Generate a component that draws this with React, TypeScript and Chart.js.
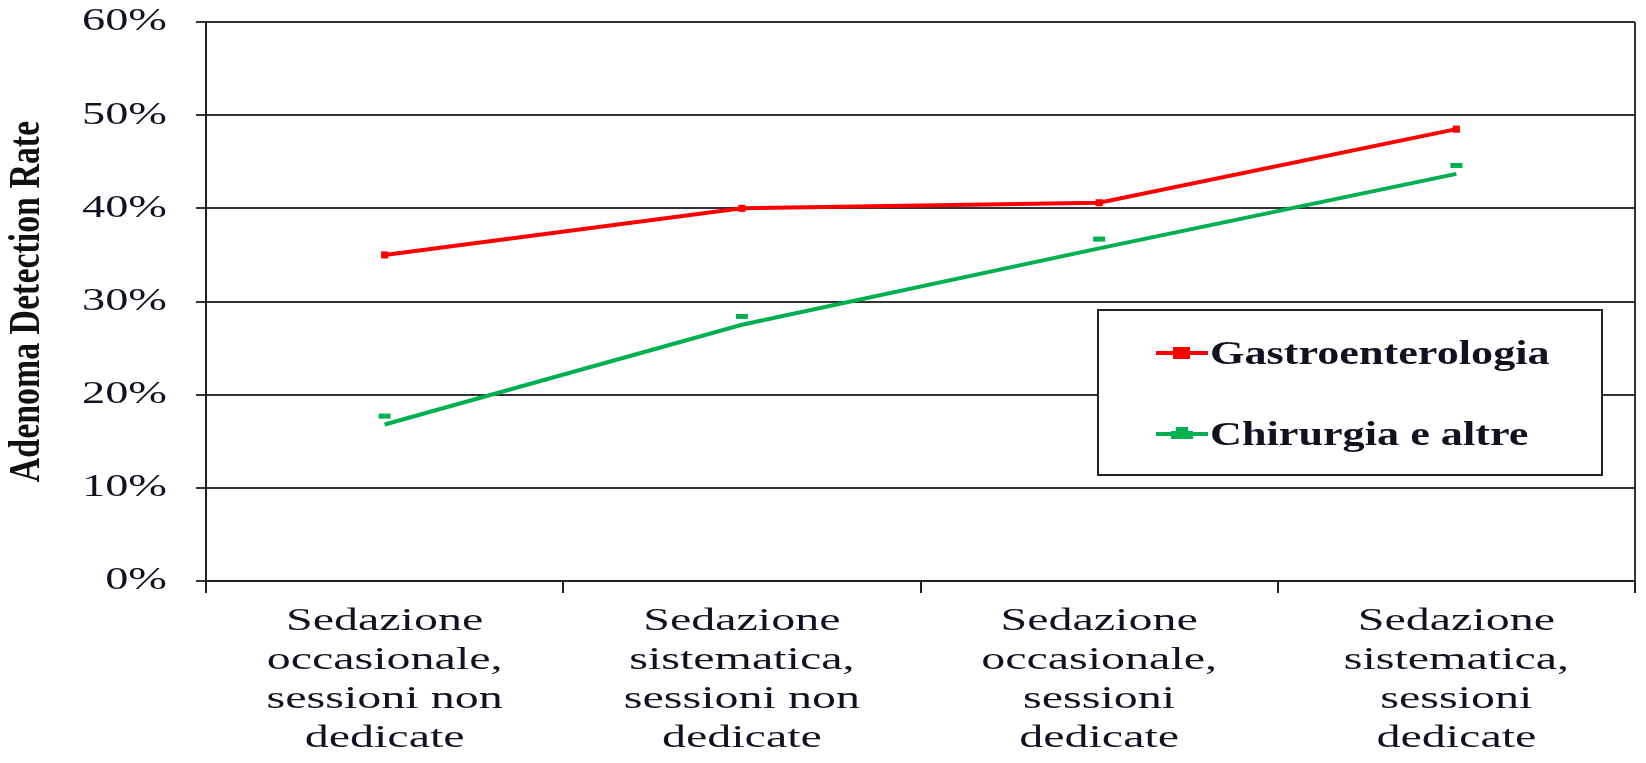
import React, { useEffect, useRef } from "react";
import { Chart, registerables } from "chart.js";

Chart.register(...registerables);

const categories: string[][] = [
  ["Sedazione", "occasionale,", "sessioni non", "dedicate"],
  ["Sedazione", "sistematica,", "sessioni non", "dedicate"],
  ["Sedazione", "occasionale,", "sessioni", "dedicate"],
  ["Sedazione", "sistematica,", "sessioni", "dedicate"],
];
const seriesNames = ["Gastroenterologia", "Chirurgia e altre"];
const gastroValues = [35.0, 40.0, 40.6, 48.5];
const chirurgiaValues = [16.8, 27.5, 35.7, 43.7];
const chirurgiaMarkers = [17.7, 28.4, 36.7, 44.6];
const yMin = 0;
const yMax = 60;
const yStep = 10;
const yTitle = "Adenoma Detection Rate";

const RED = "#FF0000";
const GREEN = "#00B050";
const TEXT = "#111122";
const X_STRETCH = 1.5;
const Y_STRETCH = 1.45;
const TITLE_STRETCH = 0.77;
const LEGEND_STRETCH = 1.3;

// Stretch text horizontally around its own anchor: Chart.js translates to the
// label anchor and then rotates, so a scale applied right after the rotation
// widens (or narrows) the glyphs along the text direction only.
function wrapStretch(scale: any, method: string, sx: number) {
  const orig = scale[method].bind(scale);
  scale[method] = (...args: any[]) => {
    const c = scale.ctx;
    const protoRotate = CanvasRenderingContext2D.prototype.rotate;
    (c as any).rotate = function (a: number) {
      protoRotate.call(c, a);
      c.scale(sx, 1);
    };
    try {
      orig(...args);
    } finally {
      delete (c as any).rotate;
    }
  };
}

const stretchPlugin = {
  id: "stretchText",
  beforeDraw(chart: any) {
    const x = chart.scales.x;
    const y = chart.scales.y;
    if (x && !x.__stretched) {
      wrapStretch(x, "drawLabels", X_STRETCH);
      x.__stretched = true;
    }
    if (y && !y.__stretched) {
      wrapStretch(y, "drawLabels", Y_STRETCH);
      wrapStretch(y, "drawTitle", TITLE_STRETCH);
      y.__stretched = true;
    }
  },
};

const framePlugin = {
  id: "frame",
  afterDraw(chart: any) {
    const { ctx, chartArea } = chart;
    ctx.save();
    ctx.strokeStyle = "#333";
    ctx.lineWidth = 2;
    ctx.beginPath();
    ctx.moveTo(chartArea.right, chartArea.top);
    ctx.lineTo(chartArea.right, chartArea.bottom);
    ctx.stroke();
    ctx.restore();
  },
};

const legendPlugin = {
  id: "boxLegend",
  afterDatasetsDraw(chart: any) {
    const { ctx, chartArea } = chart;
    const left = chartArea.left + 892;
    const top = chartArea.top + 288;
    const w = 504;
    const h = 165;
    ctx.save();
    ctx.fillStyle = "#ffffff";
    ctx.fillRect(left, top, w, h);
    ctx.strokeStyle = "#222";
    ctx.lineWidth = 2;
    ctx.strokeRect(left, top, w, h);
    const items = chart.data.datasets.filter((d: any) => !d.hideInLegend);
    items.forEach((d: any, i: number) => {
      const y = top + 43 + i * 81;
      ctx.strokeStyle = d.borderColor;
      ctx.lineWidth = 4;
      ctx.beginPath();
      ctx.moveTo(left + 58, y);
      ctx.lineTo(left + 110, y);
      ctx.stroke();
      ctx.fillStyle = d.borderColor;
      if (i === 0) {
        ctx.fillRect(left + 75, y - 6, 17, 12);
      } else {
        ctx.fillRect(left + 73, y - 3, 22, 8);
        ctx.fillRect(left + 78, y - 7, 12, 6);
      }
      ctx.save();
      ctx.translate(left + 112, y + 11);
      ctx.scale(LEGEND_STRETCH, 1);
      ctx.fillStyle = TEXT;
      ctx.font = "bold 34px 'Liberation Serif'";
      ctx.textBaseline = "alphabetic";
      ctx.textAlign = "left";
      ctx.fillText(d.label, 0, 0);
      ctx.restore();
    });
    ctx.restore();
  },
};

export default function App() {
  const ref = useRef<HTMLCanvasElement | null>(null);

  useEffect(() => {
    if (!ref.current) return;
    const chart = new Chart(ref.current, {
      type: "line",
      data: {
        labels: categories,
        datasets: [
          {
            label: seriesNames[0],
            data: gastroValues,
            borderColor: RED,
            backgroundColor: RED,
            borderWidth: 4,
            pointStyle: "rect",
            pointRadius: 5,
            pointBorderWidth: 0,
            tension: 0,
          } as any,
          {
            label: seriesNames[1],
            data: chirurgiaValues,
            borderColor: GREEN,
            backgroundColor: GREEN,
            borderWidth: 4,
            pointRadius: 0,
            tension: 0,
          } as any,
          {
            label: seriesNames[1] + " markers",
            data: chirurgiaMarkers,
            hideInLegend: true,
            showLine: false,
            borderColor: GREEN,
            backgroundColor: GREEN,
            pointStyle: "line",
            pointRadius: 6,
            pointBorderWidth: 5,
            pointBorderColor: GREEN,
          } as any,
        ],
      },
      options: {
        responsive: false,
        animation: false,
        layout: { padding: { left: 0, top: 22, right: 4, bottom: 0 } },
        plugins: {
          legend: { display: false },
          tooltip: { enabled: false },
        },
        scales: {
          x: {
            type: "category",
            offset: true,
            grid: {
              offset: true,
              drawOnChartArea: false,
              drawTicks: true,
              tickLength: 12,
              color: "#222",
              lineWidth: 2,
            },
            border: { display: true, color: "#222", width: 2 },
            ticks: {
              autoSkip: false,
              maxRotation: 0,
              minRotation: 0,
              padding: 9,
              color: TEXT,
              font: { family: "'Liberation Serif'", size: 32, lineHeight: 1.22 },
            },
            afterFit(scale: any) {
              scale.height = 182;
              scale.paddingLeft = 0;
              scale.paddingRight = 0;
            },
          },
          y: {
            min: yMin,
            max: yMax,
            ticks: {
              stepSize: yStep,
              padding: 29,
              color: TEXT,
              font: { family: "'Liberation Serif'", size: 32 },
              callback: (v: any) => `${v}%`,
            },
            grid: {
              color: "#333",
              lineWidth: 2,
              drawTicks: true,
              tickLength: 10,
            },
            border: { display: true, color: "#222", width: 2 },
            title: {
              display: true,
              text: yTitle,
              color: "#111",
              padding: { top: 6, bottom: 0 },
              font: { family: "'Liberation Serif'", size: 44, weight: "bold", lineHeight: 1.0 },
            },
            afterFit(scale: any) {
              scale.width = 206;
              scale.paddingTop = 0;
              scale.paddingBottom = 0;
            },
          },
        },
      },
      plugins: [stretchPlugin, framePlugin, legendPlugin],
    });
    return () => chart.destroy();
  }, []);

  return (
    <div style={{ position: "fixed", left: 0, top: 0, width: 1646, height: 763, background: "#fff" }}>
      <canvas ref={ref} width={1646} height={763} style={{ display: "block" }} />
    </div>
  );
}
